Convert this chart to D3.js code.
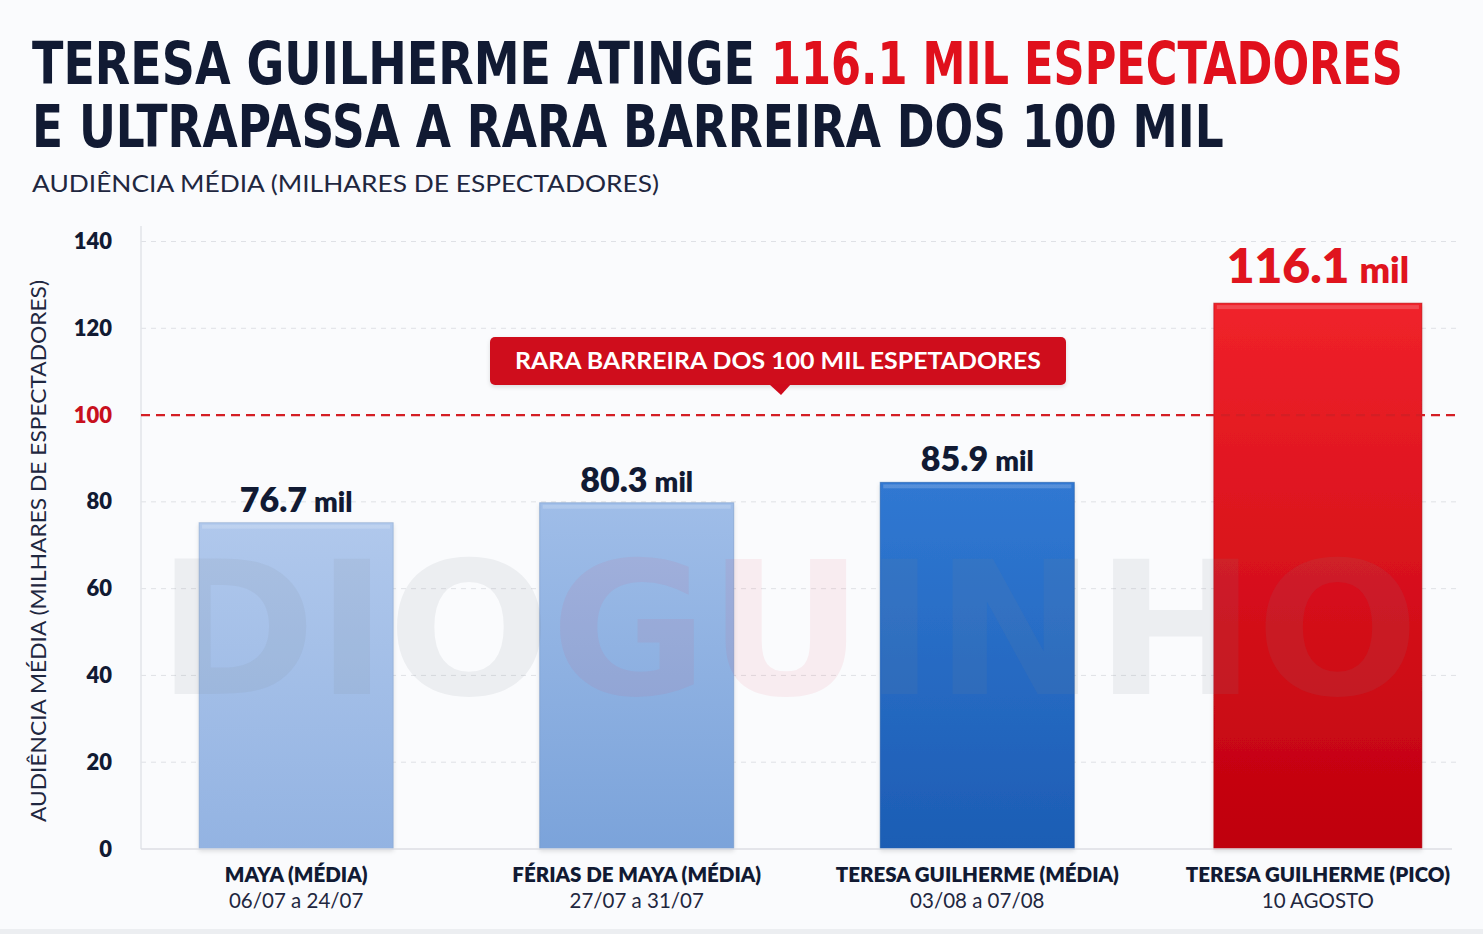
<!DOCTYPE html>
<html>
<head>
<meta charset="utf-8">
<script src="https://cdn.jsdelivr.net/npm/d3@7"></script>
<style>
  html, body { margin: 0; padding: 0; background: #fafbfd; }
  svg { display: block; }
</style>
</head>
<body>
<svg id="chart" width="1483" height="934"></svg>
<script>
// ---------- DATA ----------
const categories = ["MAYA (MÉDIA)", "FÉRIAS DE MAYA (MÉDIA)", "TERESA GUILHERME (MÉDIA)", "TERESA GUILHERME (PICO)"];
const periods = ["06/07 a 24/07", "27/07 a 31/07", "03/08 a 07/08", "10 AGOSTO"];
const audienceLabels = [76.7, 80.3, 85.9, 116.1];      // values printed above the bars
const barLevels = [75.2, 79.8, 84.5, 125.8];           // bar tops as drawn against the axis
const yTicks = [0, 20, 40, 60, 80, 100, 120, 140];
const barrierValue = 100;
const barrierText = "RARA BARREIRA DOS 100 MIL ESPETADORES";
const titleLine1a = "TERESA GUILHERME ATINGE";
const titleLine1b = "116.1 MIL ESPECTADORES";
const titleLine2 = "E ULTRAPASSA A RARA BARREIRA DOS 100 MIL";
const subtitle = "AUDIÊNCIA MÉDIA (MILHARES DE ESPECTADORES)";
const yAxisTitle = "AUDIÊNCIA MÉDIA (MILHARES DE ESPECTADORES)";
const watermark = ["DIO", "GU", "INHO"];

// ---------- STYLE ----------
const navy = "#111a33";
const red = "#e0101c";
const barGrad = [
  ["#b0c8ec", "#93b3e2"],
  ["#9fbde8", "#7ba3da"],
  ["#3078d2", "#1d5db4"],
  ["#f0222a", "#bf000d"]
];

const svg = d3.select("#chart");
const defs = svg.append("defs");
barGrad.forEach((c, i) => {
  const g = defs.append("linearGradient").attr("id", "bg" + i)
    .attr("x1", 0).attr("y1", 0).attr("x2", 0).attr("y2", 1);
  g.append("stop").attr("offset", "0%").attr("stop-color", c[0]);
  g.append("stop").attr("offset", "100%").attr("stop-color", c[1]);
});
const sh = defs.append("filter").attr("id", "shadow").attr("x", "-10%").attr("y", "-10%").attr("width", "120%").attr("height", "130%");
sh.append("feDropShadow").attr("dx", 0).attr("dy", 2).attr("stdDeviation", 2).attr("flood-color", "#000").attr("flood-opacity", 0.12);

// fit a text horizontally to a target width by scaling it
function fitText(sel, x, y, width) {
  const w = sel.node().getComputedTextLength();
  sel.attr("x", 0).attr("y", 0)
    .attr("transform", `translate(${x},${y}) scale(${width / w},1)`);
}

// ---------- TITLES ----------
const titleFont = "'Liberation Sans Narrow', 'DejaVu Sans Condensed', sans-serif";
const tA = svg.append("text").style("font-family", titleFont).style("font-weight", 700).style("font-size", "58px")
  .attr("fill", navy).text(titleLine1a);
fitText(tA, 32, 84, 723);
const tB = svg.append("text").style("font-family", titleFont).style("font-weight", 700).style("font-size", "58px")
  .attr("fill", red).text(titleLine1b);
fitText(tB, 771, 84, 632);
const t2 = svg.append("text").style("font-family", titleFont).style("font-weight", 700).style("font-size", "58px")
  .attr("fill", navy).text(titleLine2);
fitText(t2, 32, 147, 1192);
svg.append("text").attr("x", 32).attr("y", 192).attr("textLength", 627).attr("lengthAdjust", "spacingAndGlyphs")
  .style("font-family", "Lato, 'Noto Sans', sans-serif").style("font-size", "23px").attr("fill", "#1f2740")
  .text(subtitle);

// ---------- SCALES ----------
const y = d3.scaleLinear().domain([0, 140]).range([849, 241.5]);
const x = d3.scaleBand().domain(categories).range([148, 1466]).paddingInner(0.43).paddingOuter(0.15);
const plotLeft = 141, plotRight = 1460;

// ---------- GRID ----------
const grid = svg.append("g");
grid.selectAll("line.g").data(yTicks.filter(t => t !== 0 && t !== barrierValue)).join("line")
  .attr("x1", plotLeft).attr("x2", plotRight)
  .attr("y1", d => y(d)).attr("y2", d => y(d))
  .attr("stroke", "#dfe1e6").attr("stroke-width", 1).attr("stroke-dasharray", "5,5");
// left axis line
svg.append("line").attr("x1", plotLeft).attr("x2", plotLeft).attr("y1", 226).attr("y2", y(0))
  .attr("stroke", "#e2e4e8").attr("stroke-width", 1.5);

// ---------- Y AXIS ----------
const yAxis = d3.axisLeft(y).tickValues(yTicks).tickSize(0).tickPadding(0);
const yg = svg.append("g").attr("transform", "translate(112,0)").call(yAxis);
yg.select(".domain").remove();
yg.selectAll("text")
  .attr("dy", "0.32em")
  .style("font-family", "Lato, 'Noto Sans', sans-serif").style("font-weight", 800).style("font-size", "22px")
  .attr("fill", d => d === barrierValue ? "#c8101e" : navy);

svg.append("text")
  .attr("transform", `translate(46,551) rotate(-90)`)
  .attr("text-anchor", "middle").attr("textLength", 542).attr("lengthAdjust", "spacingAndGlyphs")
  .style("font-family", "Lato, 'Noto Sans', sans-serif").style("font-size", "22px").attr("fill", "#1f2740")
  .text(yAxisTitle);

// ---------- BARS ----------
const barData = categories.map((c, i) => ({ c, i, level: barLevels[i], label: audienceLabels[i], period: periods[i] }));
const extra = d => d.i === 3 ? 7 : 0;
svg.append("g").selectAll("rect").data(barData).join("rect")
  .attr("x", d => x(d.c) - extra(d))
  .attr("width", d => x.bandwidth() + 2 * extra(d))
  .attr("y", d => y(d.level))
  .attr("height", d => y(0) - y(d.level))
  .attr("fill", d => `url(#bg${d.i})`)
  .attr("stroke", d => d3.color(barGrad[d.i][1]).darker(0.3))
  .attr("stroke-opacity", 0.5)
  .attr("filter", "url(#shadow)");
// top highlight
svg.append("g").selectAll("rect").data(barData).join("rect")
  .attr("x", d => x(d.c) - extra(d) + 3)
  .attr("width", d => x.bandwidth() + 2 * extra(d) - 6)
  .attr("y", d => y(d.level) + 2)
  .attr("height", 4)
  .attr("fill", "#fff").attr("opacity", 0.18);

// baseline
svg.append("line").attr("x1", plotLeft).attr("x2", 1452).attr("y1", y(0)).attr("y2", y(0))
  .attr("stroke", "#dcdee3").attr("stroke-width", 1.5);

// ---------- WATERMARK ----------
const wm = svg.append("text").attr("x", 157).attr("y", 694)
  .attr("textLength", 1262).attr("lengthAdjust", "spacingAndGlyphs")
  .style("font-family", "'DejaVu Sans', sans-serif").style("font-weight", 700).style("font-size", "186px");
wm.selectAll("tspan").data(watermark).join("tspan")
  .attr("fill", (d, i) => i === 1 ? "#e3405a" : "#80858f")
  .attr("fill-opacity", (d, i) => i === 1 ? 0.08 : 0.11)
  .text(d => d);

// ---------- BARRIER LINE ----------
svg.append("line").attr("x1", plotLeft).attr("x2", plotRight)
  .attr("y1", y(barrierValue)).attr("y2", y(barrierValue))
  .attr("stroke", "#d41e24").attr("stroke-width", 2.2).attr("stroke-dasharray", "9,6");

// callout
const cx = 778, cTop = 337, cBot = 385;
const callout = svg.append("g");
callout.append("rect").attr("x", 490).attr("y", cTop).attr("width", 576).attr("height", cBot - cTop)
  .attr("rx", 5).attr("fill", "#cf0a1c").attr("filter", "url(#shadow)");
callout.append("path").attr("d", `M${cx - 9},${cBot - 1} L${cx + 3},${cBot + 10} L${cx + 13},${cBot - 1} Z`).attr("fill", "#cf0a1c");
callout.append("text").attr("x", cx).attr("y", 369).attr("text-anchor", "middle")
  .attr("textLength", 526).attr("lengthAdjust", "spacingAndGlyphs")
  .style("font-family", "Lato, 'Noto Sans', sans-serif").style("font-weight", 700).style("font-size", "22px")
  .attr("fill", "#fff").text(barrierText);

// ---------- VALUE LABELS ----------
const fmt = d3.format(".1f");
const vl = svg.append("g").selectAll("text").data(barData).join("text")
  .attr("x", d => x(d.c) + x.bandwidth() / 2)
  .attr("y", d => y(d.level) - (d.i === 3 ? 20 : 11))
  .attr("text-anchor", "middle")
  .style("font-family", "Lato, 'Noto Sans', sans-serif").style("font-weight", 800)
  .attr("fill", d => d.i === 3 ? "#e0141e" : navy);
vl.append("tspan").style("font-size", d => d.i === 3 ? "48px" : "34px").text(d => fmt(d.label));
vl.append("tspan").style("font-size", d => d.i === 3 ? "36px" : "28px").attr("dx", d => d.i === 3 ? 10 : 7).text("mil");

// ---------- X LABELS ----------
const xl = svg.append("g").selectAll("g").data(barData).join("g")
  .attr("transform", d => `translate(${x(d.c) + x.bandwidth() / 2},0)`);
xl.append("text").attr("y", 882).attr("text-anchor", "middle")
  .style("font-family", "Lato, 'Noto Sans', sans-serif").style("font-weight", 800).style("font-size", "20.5px")
  .attr("fill", navy).text(d => d.c);
xl.append("text").attr("y", 908).attr("text-anchor", "middle")
  .style("font-family", "Lato, 'Noto Sans', sans-serif").style("font-size", "20.5px")
  .attr("fill", "#1f2740").text(d => d.period);

// bottom edge
svg.append("rect").attr("x", 0).attr("y", 929).attr("width", 1483).attr("height", 5).attr("fill", "#eceef1");
</script>
</body>
</html>
